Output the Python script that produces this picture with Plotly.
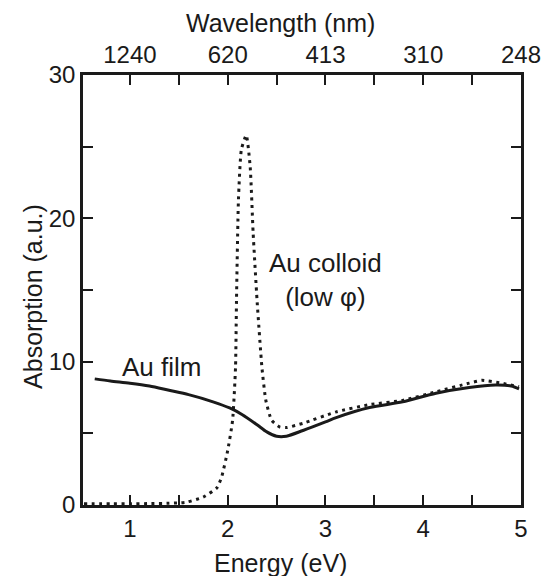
import plotly.graph_objects as go

# Au film (solid)
film_energy = [0.64, 0.8, 1.0, 1.2, 1.4, 1.6, 1.85, 2.02, 2.15, 2.3, 2.4, 2.5, 2.6, 2.77, 3.0, 3.11, 3.45, 3.79, 4.13, 4.47, 4.74, 4.9, 4.98]
film_abs = [8.8, 8.65, 8.5, 8.3, 8.0, 7.7, 7.2, 6.77, 6.3, 5.6, 5.1, 4.8, 4.8, 5.2, 5.8, 6.1, 6.8, 7.2, 7.8, 8.2, 8.37, 8.3, 8.1]

# Au colloid (low phi), dotted
colloid_energy = [0.53, 0.8, 1.0, 1.2, 1.4, 1.5, 1.58, 1.75, 1.89, 1.94, 2.0, 2.05, 2.08, 2.09, 2.11, 2.14, 2.19, 2.23, 2.26, 2.30, 2.35, 2.39, 2.45, 2.53, 2.6, 2.77, 3.11, 3.45, 3.79, 4.13, 4.47, 4.6, 4.8, 4.98]
colloid_abs = [0.08, 0.08, 0.08, 0.1, 0.12, 0.15, 0.2, 0.55, 1.2, 2.0, 3.8, 5.9, 9.6, 14.3, 21.3, 24.8, 25.8, 23.6, 19.0, 14.3, 9.6, 7.3, 5.9, 5.45, 5.4, 5.7, 6.5, 7.0, 7.3, 7.9, 8.5, 8.7, 8.5, 8.25]

energy_ticks = [1, 1.5, 2, 2.5, 3, 3.5, 4, 4.5, 5]
energy_labels = ["1", "", "2", "", "3", "", "4", "", "5"]
wavelength_labels = ["1240", "", "620", "", "413", "", "310", "", "248"]
abs_ticks = [0, 5, 10, 15, 20, 25, 30]
abs_labels = ["0", "", "10", "", "20", "", "30"]

FONT = "Liberation Sans, Arial, Helvetica, sans-serif"
INK = "#1a1a1a"

fig = go.Figure()
fig.add_trace(go.Scatter(x=colloid_energy, y=colloid_abs, mode="lines",
                         line=dict(color=INK, width=3, dash="3px,4.5px", shape="spline", smoothing=0.5),
                         hoverinfo="skip", showlegend=False))
fig.add_trace(go.Scatter(x=film_energy, y=film_abs, mode="lines",
                         line=dict(color=INK, width=3, shape="spline", smoothing=0.8),
                         hoverinfo="skip", showlegend=False))
# invisible trace for top axis
fig.add_trace(go.Scatter(x=[1, 5], y=[0, 0], xaxis="x2", mode="lines",
                         line=dict(width=0), opacity=0, hoverinfo="skip", showlegend=False))

axis_common = dict(showgrid=False, zeroline=False, showline=True, linecolor=INK, linewidth=2.5,
                   ticks="inside", ticklen=10, tickwidth=2, tickcolor=INK, automargin=False,
                   tickfont=dict(family=FONT, size=24, color=INK))

fig.update_layout(
    width=543, height=576,
    margin=dict(l=83, r=22, t=75, b=71, autoexpand=False),
    paper_bgcolor="white", plot_bgcolor="white",
    font=dict(family=FONT, color=INK),
    xaxis=dict(range=[0.52, 5], tickmode="array", tickvals=energy_ticks, ticktext=energy_labels,
               mirror=False, **axis_common),
    xaxis2=dict(range=[0.52, 5], overlaying="x", side="top", anchor="y", tickmode="array",
                tickvals=energy_ticks, ticktext=wavelength_labels, **axis_common),
    yaxis=dict(range=[0, 30], tickmode="array", tickvals=abs_ticks, ticktext=abs_labels,
               mirror="ticks", **axis_common),
    annotations=[
        dict(text="Wavelength (nm)", x=0.45, y=1.121, xref="paper", yref="paper", showarrow=False,
             xanchor="center", yanchor="middle", font=dict(size=25, family=FONT, color=INK)),
        dict(text="Energy (eV)", x=0.45, y=-0.135, xref="paper", yref="paper", showarrow=False,
             xanchor="center", yanchor="middle", font=dict(size=25, family=FONT, color=INK)),
        dict(text="Absorption (a.u.)", x=-0.114, y=0.484, xref="paper", yref="paper", showarrow=False,
             textangle=-90, xanchor="center", yanchor="middle", font=dict(size=25, family=FONT, color=INK)),
        dict(text="Au film", x=1.32, y=9.63, xref="x", yref="y", showarrow=False,
             xanchor="center", yanchor="middle", font=dict(size=26, family=FONT, color=INK)),
        dict(text="Au colloid<br>(low φ)", x=3.0, y=15.7, xref="x", yref="y", showarrow=False,
             xanchor="center", yanchor="middle", font=dict(size=26, family=FONT, color=INK)),
    ],
)

fig.write_html("out.html", config={"displayModeBar": False},
               post_script="document.body.style.margin='0';document.body.style.overflow='hidden';")
